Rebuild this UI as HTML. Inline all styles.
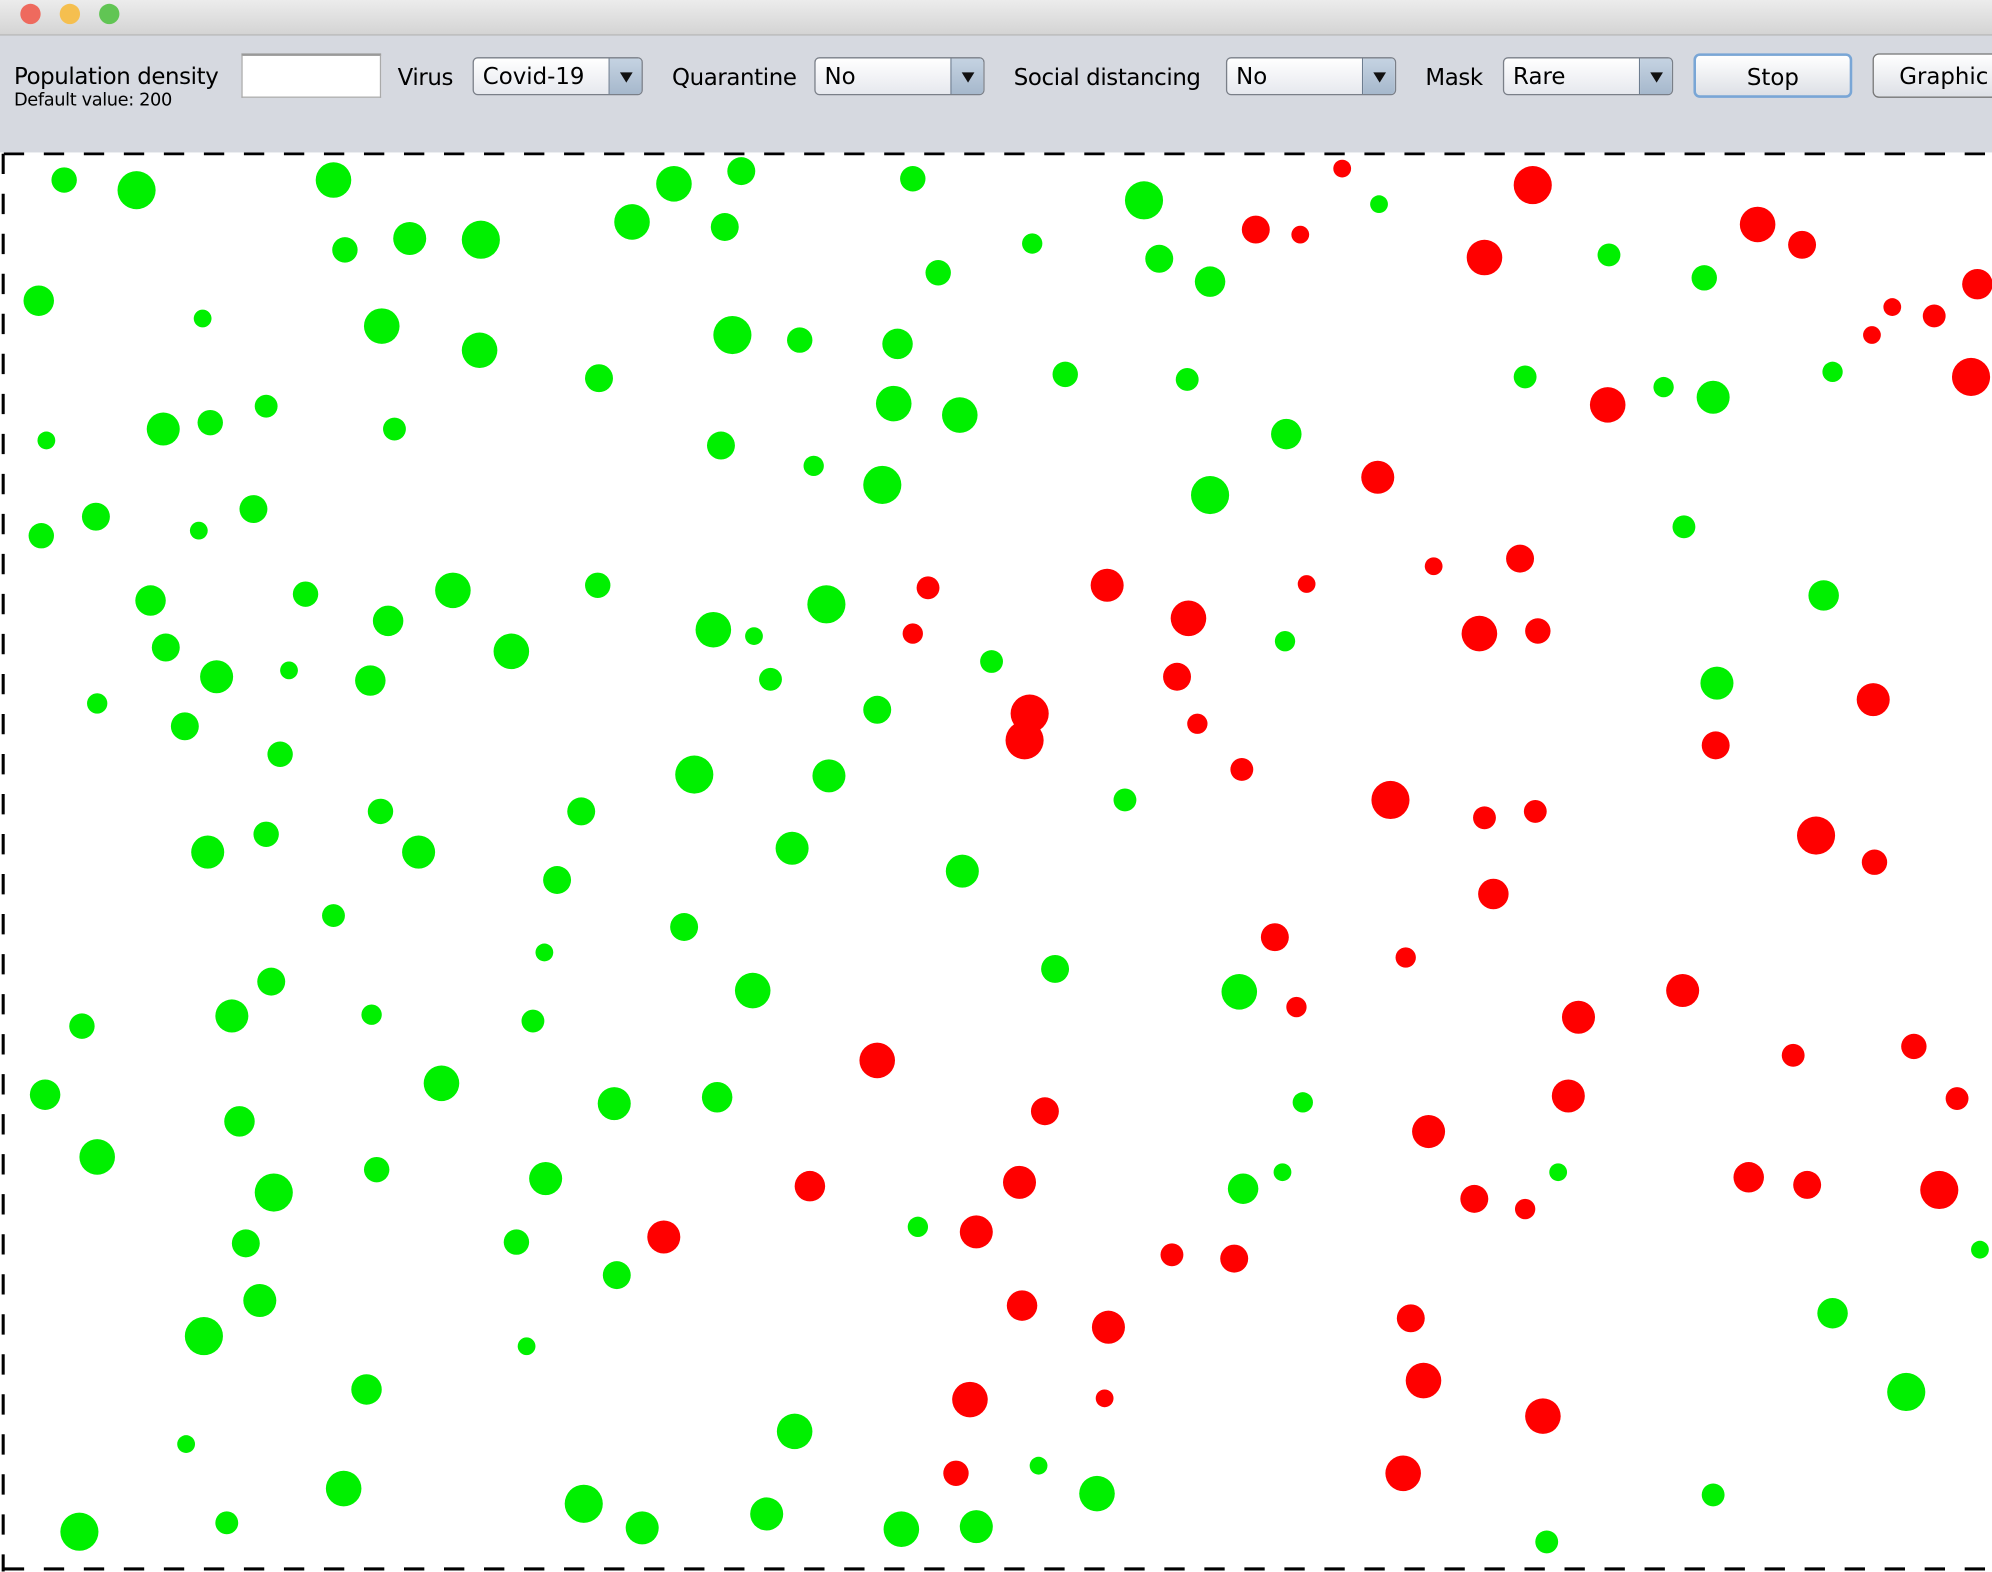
<!DOCTYPE html>
<html><head><meta charset="utf-8"><style>
html,body{margin:0;padding:0;width:1992px;height:1572px;overflow:hidden;background:#fff}
#root{position:absolute;left:0;top:0;width:1568px;height:1237px;transform:scale(1.27041);transform-origin:0 0;font-family:"DejaVu Sans","Liberation Sans",sans-serif;color:#000}
#titlebar{position:absolute;left:0;top:0;width:1568px;height:27px;background:linear-gradient(#ececec,#d4d4d4);border-bottom:1px solid #b0b0b0}
.light{position:absolute;top:3px;width:16px;height:16px;border-radius:50%}
#toolbar{position:absolute;left:0;top:28px;width:1568px;height:92px;background:#d6d9e0}
.lbl{position:absolute;font-size:18px;top:23px;white-space:nowrap;letter-spacing:-0.3px}
.combo{position:absolute;top:17px;height:30px;border:1px solid #7a7f88;border-radius:4px;background:linear-gradient(#fff,#e6e8ee);box-sizing:border-box}
.combo span{position:absolute;left:7px;top:4px;font-size:18px}
.combo .arr{position:absolute;right:0;top:0;width:25px;height:28px;background:linear-gradient(#c5d3e2,#a6b8cc);border-left:1px solid #6d7d90;border-radius:0 3px 3px 0}
.combo .arr:after{content:"";position:absolute;left:8px;top:11px;border-left:5px solid transparent;border-right:5px solid transparent;border-top:8px solid #111}
.btn{position:absolute;top:14px;height:35px;border:1px solid #777;border-radius:5px;background:linear-gradient(#fff,#dde0e6);box-sizing:border-box;font-size:18px;text-align:center;line-height:35px}
#canvas{position:absolute;left:0;top:120px;width:1568px;height:1117px}
</style></head><body>
<div id="root">
<div id="titlebar">
<div class="light" style="left:16px;background:#ee6a5e"></div>
<div class="light" style="left:47px;background:#f5bf4f"></div>
<div class="light" style="left:78px;background:#61c554"></div>
</div>
<div id="toolbar">
<div class="lbl" style="left:11px;top:22px">Population density</div>
<div class="lbl" style="left:11px;top:43px;font-size:14px">Default value: 200</div>
<div style="position:absolute;left:190px;top:14px;width:110px;height:35px;background:#fff;border:1px solid #aaa;border-top:2px solid #999;box-sizing:border-box"></div>
<div class="lbl" style="left:313px">Virus</div>
<div class="combo" style="left:372px;width:134px"><span>Covid-19</span><div class="arr"></div></div>
<div class="lbl" style="left:529px">Quarantine</div>
<div class="combo" style="left:641px;width:134px"><span>No</span><div class="arr"></div></div>
<div class="lbl" style="left:798px">Social distancing</div>
<div class="combo" style="left:965px;width:134px"><span>No</span><div class="arr"></div></div>
<div class="lbl" style="left:1122px">Mask</div>
<div class="combo" style="left:1183px;width:134px"><span>Rare</span><div class="arr"></div></div>
<div class="btn" style="left:1333px;width:125px;border:2px solid #79a6d6">Stop</div>
<div class="btn" style="left:1474px;width:120px;text-align:left;padding-left:20px">Graphic</div>
</div>
<svg id="canvas" width="1568" height="1117" viewBox="0 120 1568 1117">
<rect x="0" y="120" width="1568" height="1117" fill="#fff"/>
<g id="people" transform="translate(0.5,0.7)"></g>
<line x1="3" y1="121" x2="1568" y2="121" stroke="#000" stroke-width="2.4" stroke-dasharray="16 15.5"/>
<line x1="3" y1="1235" x2="1568" y2="1235" stroke="#000" stroke-width="2.4" stroke-dasharray="16 15.5"/>
<line x1="2.5" y1="121" x2="2.5" y2="1237" stroke="#000" stroke-width="2.4" stroke-dasharray="16 15.5"/>
</svg>
</div>
<script>
const healthy = [[50,141,10],[107,149,15],[262,141,14],[530,144,14],[583,134,11],[718,140,10],[900,157,15],[1085,160,7],
[271,196,10],[322,187,13],[378,188,15],[497,174,14],[570,178,11],[738,214,10],[812,191,8],[912,203,11],[952,221,12],[1266,200,9],[1341,218,10],
[30,236,12],[159,250,7],[300,256,14],[377,275,14],[576,263,15],[629,267,10],[706,270,12],[838,294,10],[934,298,9],[1200,296,9],[1309,304,8],[1348,312,13],[1442,292,8],
[36,346,7],[128,337,13],[165,332,10],[209,319,9],[310,337,9],[471,297,11],[567,350,11],[640,366,8],[703,317,14],[755,326,14],[1012,341,12],
[32,421,10],[75,406,11],[156,417,7],[199,400,11],[694,381,15],[952,389,15],[1325,414,9],
[118,472,12],[240,467,10],[305,488,12],[356,464,14],[470,460,10],[650,475,15],[561,495,14],[593,500,7],[130,509,11],[170,532,13],[227,527,7],[291,535,12],[402,512,14],[606,534,9],[780,520,9],[1011,504,8],[1435,468,12],[1351,537,13],
[76,553,8],[145,571,11],[220,593,10],[690,558,11],[546,609,15],[652,610,13],[885,629,9],
[299,638,10],[209,656,10],[163,670,13],[329,670,13],[457,638,11],[438,692,11],[623,667,13],[757,685,13],
[262,720,9],[538,729,11],[428,749,7],[830,762,11],[213,772,11],[292,798,8],[419,803,9],[592,779,14],[975,780,14],[64,807,10],[182,799,13],
[35,861,12],[347,852,14],[188,882,12],[483,868,13],[564,863,12],[1025,867,8],
[76,910,14],[296,920,10],[429,927,13],[215,938,15],[978,935,12],[1009,922,7],[1226,922,7],[193,978,11],[406,977,10],[722,965,8],[485,1003,11],[1558,983,7],
[204,1023,13],[160,1051,15],[414,1059,7],[1442,1033,12],[288,1093,12],[1500,1095,15],[625,1126,14],[146,1136,7],[270,1171,14],[817,1153,7],[863,1175,14],[1348,1176,9],
[62,1205,15],[178,1198,9],[459,1183,15],[505,1202,13],[603,1191,13],[709,1203,14],[768,1201,13],[1217,1213,9]];
const infected = [[1056,132,7],[1206,145,15],[988,180,11],[1023,184,7],[1168,202,14],[1383,176,14],[1418,192,11],[1556,223,12],[1489,241,7],[1522,248,9],[1473,263,7],[1551,296,15],[1265,318,14],
[1084,375,13],[1128,445,7],[1196,439,11],[871,460,13],[730,462,9],[1028,459,7],[935,486,14],[718,498,8],[1164,498,14],[1210,496,10],[926,532,11],[810,561,15],[806,582,15],[942,569,8],[1474,550,13],[1350,586,11],[977,605,9],
[1094,629,15],[1168,643,9],[1208,638,9],[1429,657,15],[1475,678,10],[1175,703,12],[1003,737,11],[1106,753,8],[1020,792,8],[1242,800,13],[1324,779,13],[690,834,14],[822,874,11],[1411,830,9],[1506,823,10],[1540,864,9],[1234,862,13],[1124,890,13],
[637,933,12],[802,930,13],[1160,943,11],[1200,951,8],[1376,926,12],[1422,932,11],[1526,936,15],[522,973,13],[768,969,13],[922,987,9],[971,990,11],
[804,1027,12],[872,1044,13],[1110,1037,11],[1120,1086,14],[763,1101,14],[869,1100,7],[1214,1114,14],[752,1159,10],[1104,1159,14]];
const g = document.getElementById('people');
const NS = 'http://www.w3.org/2000/svg';
function draw(list, color, name){
  list.forEach(function(p){
    const c = document.createElementNS(NS,'circle');
    c.setAttribute('cx', p[0]); c.setAttribute('cy', p[1]); c.setAttribute('r', p[2]);
    c.setAttribute('fill', color);
    
    
    g.appendChild(c);
  });
}
draw(healthy, '#00f000', 'healthy-person');
draw(infected, '#ff0000', 'infected-person');
</script>
</body></html>
